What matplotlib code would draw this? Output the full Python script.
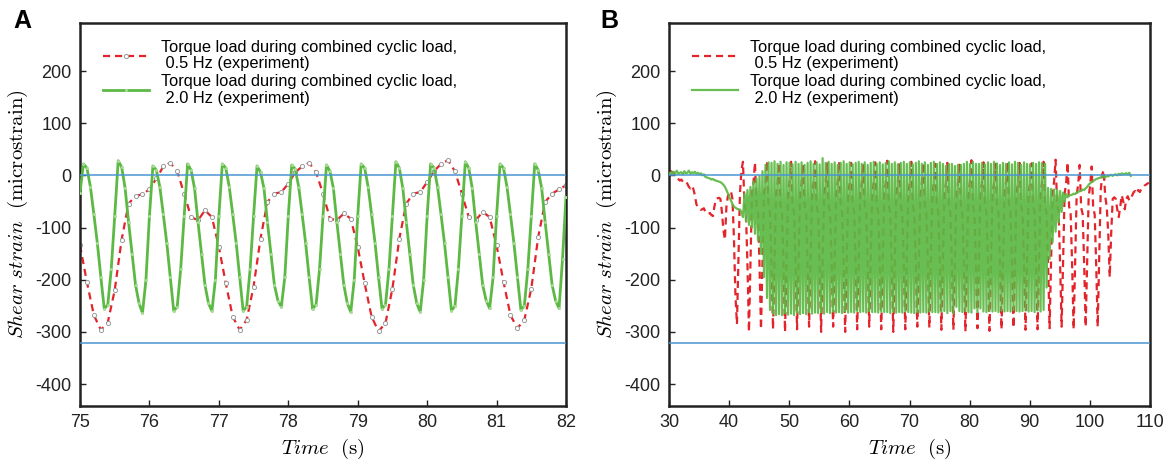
import numpy as np
import matplotlib
matplotlib.use('Agg')
import matplotlib.pyplot as plt

plt.rcParams['font.family'] = ['Liberation Sans', 'DejaVu Sans']
plt.rcParams['mathtext.fontset'] = 'cm'
plt.rcParams['axes.unicode_minus'] = False

# ---------------- data ----------------
label_red = "Torque load during combined cyclic load,\n 0.5 Hz (experiment)"
label_green = "Torque load during combined cyclic load,\n 2.0 Hz (experiment)"
zero_line = 0
limit_line = -322

# Panel A: 75-82 s
tA_red = np.round(np.arange(75.0, 82.0001, 0.1), 2)
redA = [-134, -205, -268, -296, -282, -220, -123, -54, -40, -36,
        -27, -6, 17, 24, 8, -35, -80, -86, -67, -80,
        -137, -207, -271, -296, -277, -213, -121, -51, -35, -32,
        -16, 6, 17, 24, 6, -35, -83, -86, -73, -83,
        -137, -207, -271, -299, -283, -217, -121, -54, -35, -32,
        -13, 8, 22, 29, 8, -35, -80, -86, -70, -80,
        -134, -204, -268, -293, -277, -217, -118, -51, -35, -27,
        -19]

tA_green = np.round(np.arange(75.0, 82.0001, 0.05), 2)
greenA = [-33,
          22, 14, -22, -75, -130, -195, -256, -248, -180, -78,
          28, 16, -25, -90, -150, -210, -245, -264, -200, -78,
          18, 10, -22, -75, -130, -195, -260, -252, -180, -78,
          22, 10, -25, -90, -150, -210, -245, -260, -200, -78,
          22, 14, -22, -75, -130, -195, -260, -252, -180, -78,
          18, 6, -25, -90, -150, -210, -240, -252, -195, -78,
          20, 12, -22, -75, -130, -195, -256, -248, -180, -78,
          20, 8, -25, -90, -150, -210, -245, -262, -200, -78,
          22, 14, -22, -75, -130, -195, -256, -248, -180, -78,
          26, 14, -25, -90, -150, -210, -245, -262, -200, -78,
          22, 14, -22, -75, -130, -195, -259, -251, -180, -78,
          26, 14, -25, -90, -150, -210, -240, -255, -195, -78,
          22, 14, -22, -75, -130, -195, -258, -250, -180, -78,
          22, 10, -25, -90, -150, -210, -240, -255, -160, -41]

# Panel B: 30-110 s, samples every 0.25 s starting at 30.05 s (rows = 2 s)
redB = [9, 8, 6, 3, 1, -3, -7, -10,
        -8, -12, -14, -12, -16, -22, -25, -20,
        -26, -38, -55, -62, -64, -66, -65, -63,
        -70, -72, -74, -72, -76, -78, -60, -46,
        -44, -43, -45, -70, -105, -123, -60, -39,
        -36, -30, -45, -120, -230, -285, -160, -35,
        10, 26, -55, -72, -172, -300, -168, -35,
        -14, 25, -58, -70, -170, -295, -168, -35,
        -15, 28, -58, -72, -170, -295, -170, -35,
        -16, 24, -58, -70, -172, -300, -167, -35,
        -14, 26, -58, -72, -170, -295, -168, -35,
        -16, 22, -58, -70, -170, -290, -167, -35,
        -15, 27, -58, -72, -172, -300, -168, -35,
        -16, 23, -58, -70, -170, -290, -168, -35,
        -14, 26, -58, -72, -172, -300, -167, -35,
        -15, 24, -58, -70, -170, -295, -168, -35,
        -16, 22, -58, -72, -170, -290, -167, -35,
        -14, 25, -58, -70, -172, -295, -168, -35,
        -15, 28, -58, -72, -170, -300, -168, -35,
        -16, 23, -58, -70, -170, -295, -167, -35,
        -14, 26, -58, -72, -172, -290, -168, -35,
        -15, 24, -58, -70, -170, -292, -167, -35,
        -16, 22, -58, -72, -172, -296, -168, -35,
        -16, 24, -58, -72, -172, -296, -167, -35,
        -16, 24, -58, -76, -172, -299, -170, -35,
        -13, 29, -58, -72, -170, -293, -167, -35,
        -15, 25, -58, -70, -172, -298, -168, -35,
        -16, 22, -58, -72, -170, -295, -167, -35,
        -14, 26, -58, -70, -172, -292, -168, -35,
        -15, 24, -58, -72, -170, -296, -168, -35,
        -16, 23, -58, -70, -172, -295, -167, -35,
        -14, 26, -58, -72, -170, -293, -168, -35,
        -12, 30, -58, -70, -170, -290, -167, -35,
        -15, 25, -60, -72, -172, -295, -168, -38,
        -18, 20, -62, -74, -170, -290, -165, -40,
        -20, 17, -62, -75, -172, -290, -160, -30,
        2, 10, -40, -60, -110, -195, -110, -45,
        -42, -45, -65, -80, -60, -38, -50, -65,
        -45, -40, -48, -45, -38, -32, -30, -35,
        -28, -32, -26, -24, -20, -18, -16, -14]

greenB = [3, 6, 2, 7, 4, 9, 3, 5,
          6, 2, 8, 4, 5, 9, 3, 6,
          4, 7, 3, 5, 2, 4, 0, 2,
          -3, -4, -5, -6, -8, -7, -9, -10,
          -11, -12, -13, -15, -18, -22, -28, -35,
          -42, -48, -55, -60, -62, -64, -65, -66,
          -70, -80, -35, -88, -28, -95, -22, -100,
          -12, -112, -6, -125, -2, -150, 8, -195,
          20, -235, 25, -258, 24, -265, 27, -268,
          22, -266, 26, -268, 20, -264, 25, -267,
          24, -265, 21, -268, 26, -263, 22, -266,
          25, -264, 20, -266, 24, -262, 27, -265,
          22, -263, 25, -264, 21, -262, 33, -265,
          24, -262, 26, -264, 22, -261, 25, -263,
          20, -262, 24, -264, 27, -261, 22, -263,
          25, -262, 21, -263, 24, -260, 26, -262,
          22, -261, 25, -263, 20, -260, 24, -262,
          26, -262, 22, -263, 25, -261, 21, -262,
          24, -262, 27, -264, 22, -261, 25, -263,
          21, -262, 24, -263, 26, -261, 22, -262,
          25, -263, 21, -264, 24, -262, 27, -263,
          22, -262, 25, -263, 20, -261, 24, -262,
          26, -262, 22, -263, 25, -261, 22, -260,
          18, -264, 22, -260, 22, -264, 18, -252,
          20, -260, 20, -262, 22, -260, 26, -262,
          22, -263, 26, -255, 22, -262, 22, -255,
          24, -261, 21, -262, 25, -260, 22, -261,
          26, -260, 23, -262, 20, -259, 24, -261,
          22, -260, 25, -261, 21, -258, 26, -260,
          24, -261, 20, -260, 25, -259, 22, -261,
          21, -260, 24, -262, 22, -259, 25, -261,
          24, -258, 22, -215, -24, -160, -26, -128,
          -27, -108, -28, -90, -30, -70, -33, -50,
          -36, -42, -38, -38, -37, -35, -36, -33,
          -32, -30, -30, -27, -28, -25, -22, -18,
          -15, -13, -11, -9, -7, -6, -5, -4,
          -3, -2, -4, -1, -2, 0, 1, -1,
          1, 2, 0, 3, 1, 4, 2, 3,
          4, 2, 5, -1]

tB_red = 30.05 + 0.25 * np.arange(len(redB))
tB_green = 30.05 + 0.25 * np.arange(len(greenB))

# ---------------- style ----------------
RED = '#e3242b'
GREEN = '#5cb944'
BLUE = '#4a96d2'
FRAME = '#222222'

W, H = 1165, 461
fig = plt.figure(figsize=(W / 100, H / 100), dpi=100)
axA = fig.add_axes([80 / W, 1 - 406 / H, 486 / W, 383 / H])
axB = fig.add_axes([669 / W, 1 - 406 / H, 481 / W, 383 / H])

dash = (0, (3.2, 2.2))


def style(ax, xlim, xticks):
    ax.set_xlim(*xlim)
    ax.set_ylim(-442, 292)
    ax.set_xticks(xticks)
    ax.set_yticks([-400, -300, -200, -100, 0, 100, 200])
    ax.tick_params(direction='in', length=4, width=1, labelsize=13, pad=6,
                   top=False, right=False, colors=FRAME)
    for s in ax.spines.values():
        s.set_linewidth(1.8)
        s.set_color(FRAME)
    ax.set_xlabel(r'$Time\ \ (\mathrm{s})$', fontsize=15, labelpad=4)
    ax.set_ylabel(r'$Shear\ strain\ \ (\mathrm{microstrain})$', fontsize=15, labelpad=4)
    ax.axhline(zero_line, color=BLUE, lw=1.1, zorder=4)
    ax.axhline(limit_line, color=BLUE, lw=1.1, zorder=4)


# Panel A
style(axA, (75, 82), [75, 76, 77, 78, 79, 80, 81, 82])
lrA, = axA.plot(tA_red, redA, color=RED, lw=1.6, ls=dash, marker='o', ms=3,
                mfc='white', mec='#9a9a9a', mew=0.7, zorder=2)
lgA, = axA.plot(tA_green, greenA, color=GREEN, lw=2.0, marker='o', ms=2.2,
                mfc='#a8dc96', mec='none', zorder=3)

# Panel B
style(axB, (30, 110), [30, 40, 50, 60, 70, 80, 90, 100, 110])
lrB, = axB.plot(tB_red, redB, color=RED, lw=1.6, ls=dash, zorder=2)
lgB, = axB.plot(tB_green, greenB, color=GREEN, lw=1.6, alpha=0.92, zorder=3)

for ax, hs in ((axA, [lrA, lgA]), (axB, [lrB, lgB])):
    w = ax.get_position().width * W
    leg = ax.legend(hs, [label_red, label_green], loc='upper left',
                    bbox_to_anchor=(23 / w, 1 - 17 / 383), frameon=False,
                    fontsize=11.8, handlelength=2.8, handletextpad=0.75,
                    labelspacing=0.2, borderaxespad=0, borderpad=0)
    for t in leg.get_texts():
        t.set_linespacing(1.1)

fig.text(22.5 / W, 1 - 20.5 / H, 'A', fontsize=18, fontweight='bold',
         ha='center', va='center')
fig.text(609.5 / W, 1 - 21.5 / H, 'B', fontsize=18, fontweight='bold',
         ha='center', va='center')

fig.savefig('out.png', dpi=100)
